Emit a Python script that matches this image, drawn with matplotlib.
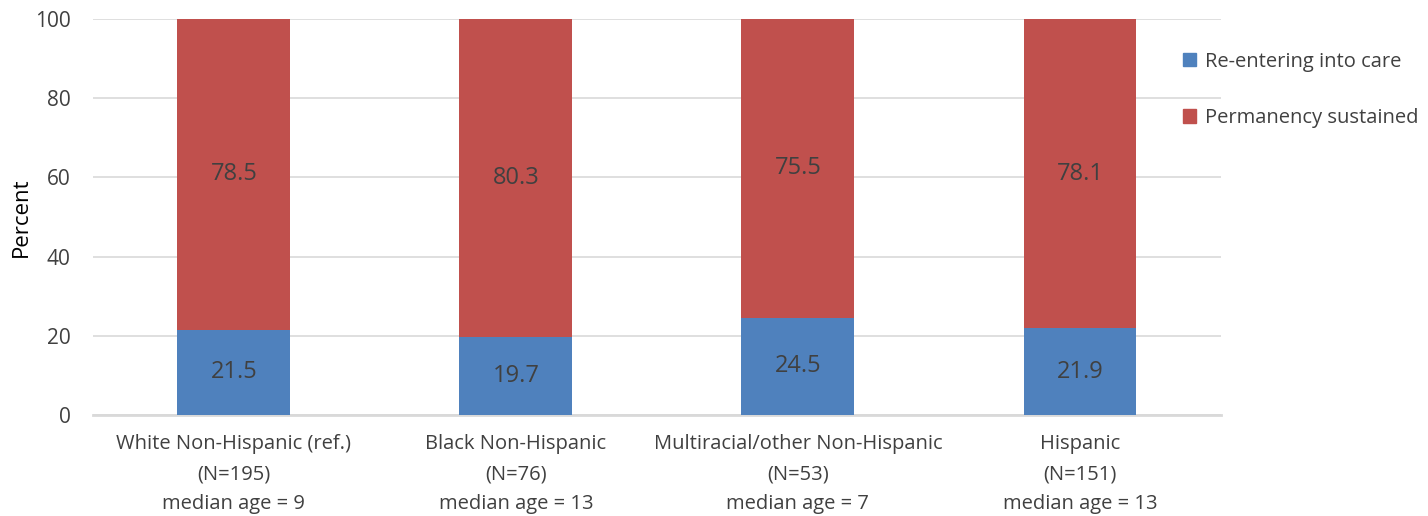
import matplotlib.pyplot as plt
from matplotlib.patches import Patch

groups = ['White Non-Hispanic (ref.)\n(N=195)\nmedian age = 9',
          'Black Non-Hispanic\n(N=76)\nmedian age = 13',
          'Multiracial/other Non-Hispanic\n(N=53)\nmedian age = 7',
          'Hispanic\n(N=151)\nmedian age = 13']
reentering = [21.5, 19.7, 24.5, 21.9]
sustained = [78.5, 80.3, 75.5, 78.1]
yticks = [0, 20, 40, 60, 80, 100]

BLUE = '#4F81BD'
RED = '#C0504D'
TEXT = '#404040'

plt.rcParams['font.family'] = ['Open Sans', 'DejaVu Sans']

fig = plt.figure(figsize=(14.28, 5.16), dpi=100)
ax = fig.add_axes([0.065, 0.196, 0.79, 0.767])

x = range(len(groups))
ax.bar(x, reentering, width=0.4, color=BLUE, zorder=3)
ax.bar(x, sustained, width=0.4, bottom=reentering, color=RED, zorder=3)

for i in x:
    ax.text(i, reentering[i] / 2, f'{reentering[i]:.1f}', ha='center', va='center',
            fontsize=17, color=TEXT, zorder=4)
    ax.text(i, reentering[i] + sustained[i] / 2, f'{sustained[i]:.1f}', ha='center',
            va='center', fontsize=17, color=TEXT, zorder=4)

ax.set_xlim(-0.5, 3.5)
ax.set_ylim(0, 100)
ax.set_yticks(yticks)
ax.set_xticks(list(x))
ax.set_xticklabels(groups, fontsize=14.5, color=TEXT, linespacing=1.66)
ax.tick_params(axis='y', labelsize=15, labelcolor=TEXT, length=0, pad=16)
ax.tick_params(axis='x', length=0, pad=14)
ax.set_ylabel('Percent', fontsize=16, color='black')
ax.yaxis.set_label_coords(-0.054, 0.5)

ax.grid(axis='y', color='#D9D9D9', linewidth=1.2, zorder=0)
for side in ['top', 'right', 'left']:
    ax.spines[side].set_visible(False)
ax.spines['bottom'].set_color('#D9D9D9')
ax.spines['bottom'].set_linewidth(2)

handles = [Patch(color=BLUE), Patch(color=RED)]
fig.legend(handles, ['Re-entering into care', 'Permanency sustained'],
           loc='upper left', bbox_to_anchor=(0.816, 0.935), frameon=False,
           fontsize=14.5, labelcolor=TEXT, handlelength=0.65, handleheight=0.65,
           handletextpad=0.4, labelspacing=1.8)

fig.savefig('out.png', dpi=100)
